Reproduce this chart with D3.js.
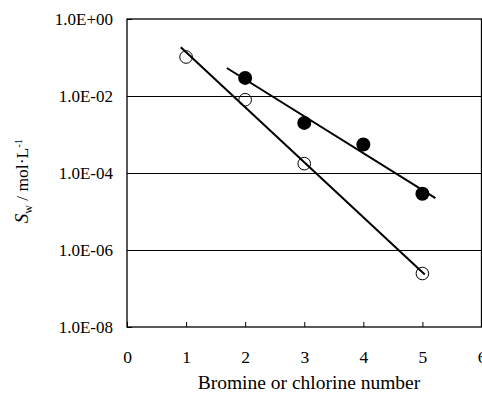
<!DOCTYPE html>
<html>
<head>
<meta charset="utf-8">
<script src="https://cdn.jsdelivr.net/npm/d3@7"></script>
<style>
  body { margin: 0; background: #fff; }
  svg { display: block; }
</style>
</head>
<body>
<div id="chart"></div>
<script>
// open circles
const openX = [1, 2, 3, 5];
const openY = [1.03e-1, 8.0e-3, 1.75e-4, 2.45e-7];
// filled circles
const filledX = [2, 3, 4, 5];
const filledY = [2.95e-2, 2.0e-3, 5.5e-4, 2.9e-5];
// x extent of each trend line
const openFitRange = [0.91, 5.04];
const filledFitRange = [1.69, 5.22];

const xTicks = [0, 1, 2, 3, 4, 5, 6];
const yTicks = [1e0, 1e-2, 1e-4, 1e-6, 1e-8];
const yTickLabels = ["1.0E+00", "1.0E-02", "1.0E-04", "1.0E-06", "1.0E-08"];

const W = 482, H = 393;
const margin = { top: 19, right: 0, bottom: 66, left: 127 };
const serif = "Liberation Serif";

const svg = d3.select("#chart").append("svg")
    .attr("width", W)
    .attr("height", H);

const x = d3.scaleLinear().domain([0, 6]).range([margin.left, 481.5]);
const y = d3.scaleLog().domain([1e-8, 1]).range([H - margin.bottom, margin.top]);

// gridlines
svg.append("g")
    .selectAll("line")
    .data(yTicks.slice(1, 4))
    .enter().append("line")
    .attr("x1", x(0)).attr("x2", x(6))
    .attr("y1", d => Math.round(y(d)) + 0.5).attr("y2", d => Math.round(y(d)) + 0.5)
    .attr("stroke", "#000")
    .attr("stroke-width", 1);

// frame
svg.append("rect")
    .attr("x", x(0)).attr("y", y(1))
    .attr("width", x(6) - x(0))
    .attr("height", y(1e-8) - y(1))
    .attr("fill", "none")
    .attr("stroke", "#000")
    .attr("stroke-width", 1.3);

// x axis: ticks pointing up, labels below
const xAxis = svg.append("g")
    .attr("transform", `translate(0,${y(1e-8)})`)
    .call(d3.axisBottom(x).tickValues(xTicks).tickSizeInner(-5).tickSizeOuter(0).tickPadding(24).tickFormat(d3.format("d")));
xAxis.select(".domain").remove();
xAxis.selectAll("line").attr("stroke", "#000");
xAxis.selectAll("text").attr("font-size", 17.5).attr("font-family", serif).attr("fill", "#000");

// y axis
const yAxis = svg.append("g")
    .attr("transform", `translate(${x(0)},0)`)
    .call(d3.axisLeft(y).tickValues(yTicks).tickSizeInner(-5).tickSizeOuter(0).tickPadding(14)
        .tickFormat((d, i) => yTickLabels[i]));
yAxis.select(".domain").remove();
yAxis.selectAll("line").attr("stroke", "#000");
yAxis.selectAll("text").attr("font-size", 17).attr("font-family", serif).attr("fill", "#000");

// least-squares fit in log space
function fit(xs, ys) {
    const ly = ys.map(v => Math.log10(v));
    const mx = d3.mean(xs), my = d3.mean(ly);
    const sxy = d3.sum(xs, (v, i) => (v - mx) * (ly[i] - my));
    const sxx = d3.sum(xs, v => (v - mx) * (v - mx));
    const b = sxy / sxx;
    return t => Math.pow(10, my + b * (t - mx));
}

const line = d3.line().x(d => x(d[0])).y(d => y(d[1]));

const fOpen = fit(openX, openY);
const fFilled = fit(filledX, filledY);

svg.append("path")
    .datum(openFitRange.map(t => [t, fOpen(t)]))
    .attr("d", line)
    .attr("fill", "none").attr("stroke", "#000").attr("stroke-width", 2);

svg.append("path")
    .datum(filledFitRange.map(t => [t, fFilled(t)]))
    .attr("d", line)
    .attr("fill", "none").attr("stroke", "#000").attr("stroke-width", 2);

// markers
svg.append("g").selectAll("circle")
    .data(openX.map((v, i) => [v, openY[i]]))
    .enter().append("circle")
    .attr("cx", d => x(d[0])).attr("cy", d => y(d[1]))
    .attr("r", 6.3)
    .attr("fill", "none")
    .attr("stroke", "#000").attr("stroke-width", 1);

svg.append("g").selectAll("circle")
    .data(filledX.map((v, i) => [v, filledY[i]]))
    .enter().append("circle")
    .attr("cx", d => x(d[0])).attr("cy", d => y(d[1]))
    .attr("r", 7)
    .attr("fill", "#000");

// axis titles
svg.append("text")
    .attr("x", 309)
    .attr("y", 389)
    .attr("text-anchor", "middle")
    .attr("font-size", 19.5)
    .attr("font-family", serif)
    .text("Bromine or chlorine number");

const yTitle = svg.append("text")
    .attr("transform", "translate(28,181) rotate(-90)")
    .attr("text-anchor", "middle")
    .attr("font-size", 17.5)
    .attr("font-family", serif);
yTitle.append("tspan").attr("font-style", "italic").attr("font-size", 19).text("S");
yTitle.append("tspan").attr("dy", 4).attr("font-size", 12).text("w");
yTitle.append("tspan").attr("dy", -4).text(" / mol·L");
yTitle.append("tspan").attr("dy", -6).attr("font-size", 11).text("-1");
</script>
</body>
</html>
